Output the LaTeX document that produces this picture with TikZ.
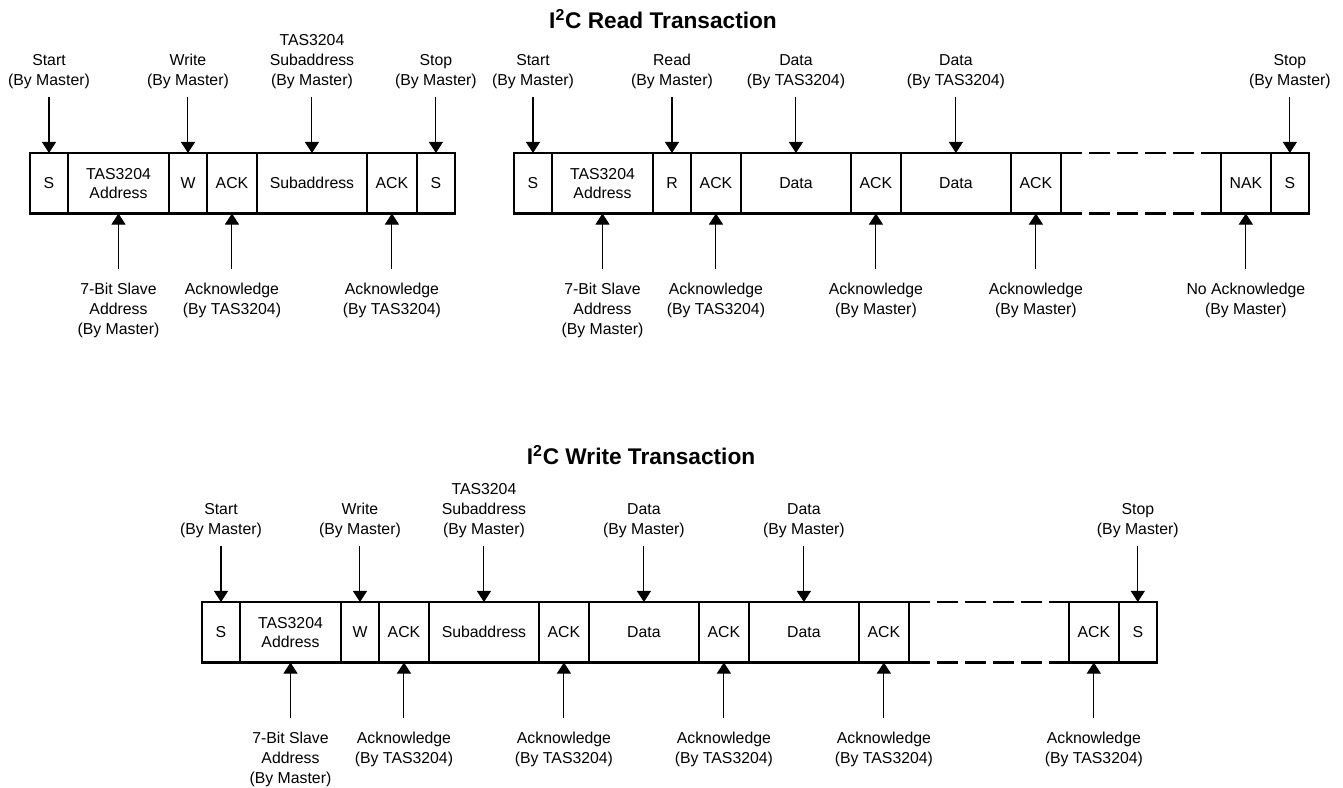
\documentclass[tikz,border=0pt]{standalone}
\usepackage{fontspec}
\setmainfont{Liberation Sans}
\usetikzlibrary{positioning,arrows.meta}

\tikzset{
  cell/.style={draw,line width=1.3pt,minimum height=1.21cm,inner sep=0pt,outer sep=0pt,align=center,font=\fontsize{9}{11}\selectfont},
  narrow/.style={cell,minimum width=0.76cm},
  addr/.style={cell,minimum width=2.02cm},
  ackc/.style={cell,minimum width=1cm},
  wide/.style={cell,minimum width=2.2cm},
  gapc/.style={minimum width=3.2cm,minimum height=1.21cm,inner sep=0pt,outer sep=0pt},
  lbl/.style={align=center,inner sep=4.5pt,font=\fontsize{9}{11.5}\selectfont},
  blbl/.style={lbl,inner ysep=7.5pt},
  arr/.style={-{Triangle[width=8pt,length=6.3pt]},line width=0.6pt},
  gapline/.style={line width=1.3pt,dash pattern=on 12pt off 4pt},
  ttl/.style={font=\fontsize{12.9}{15}\selectfont\bfseries}
}

\begin{document}
\begin{tikzpicture}[x=0.02cm,y=-0.02cm,node distance=1.12cm]
\useasboundingbox (0,0) rectangle (1343,788);

% read transaction
\node[ttl] (rtitle) at (663,19) {I\textsuperscript{2}C Read Transaction};

% subaddress part
\node[narrow,anchor=north west] (ps) at (30,153) {S};
\node[addr] (padr) [right=0pt of ps] {TAS3204\\Address};
\node[narrow] (pw) [right=0pt of padr] {W};
\node[ackc] (pk1) [right=0pt of pw] {ACK};
\node[wide] (psub) [right=0pt of pk1] {Subaddress};
\node[ackc] (pk2) [right=0pt of psub] {ACK};
\node[narrow] (pp) [right=0pt of pk2] {S};

\node[lbl] (psl) [above=of ps] {Start\\(By Master)};
\node[lbl] (pwl) [above=of pw] {Write\\(By Master)};
\node[lbl] (psubl) [above=of psub] {TAS3204\\Subaddress\\(By Master)};
\node[lbl] (ppl) [above=of pp] {Stop\\(By Master)};
\node[blbl] (padrl) [below=of padr] {7-Bit Slave\\Address\\(By Master)};
\node[blbl] (pk1l) [below=of pk1] {Acknowledge\\(By TAS3204)};
\node[blbl] (pk2l) [below=of pk2] {Acknowledge\\(By TAS3204)};

\draw[arr] (psl) -- (ps);
\draw[arr] (pwl) -- (pw);
\draw[arr] (psubl) -- (psub);
\draw[arr] (ppl) -- (pp);
\draw[arr] (padrl) -- (padr);
\draw[arr] (pk1l) -- (pk1);
\draw[arr] (pk2l) -- (pk2);

% data part
\node[narrow,anchor=north west] (rs) at (514,153) {S};
\node[addr] (radr) [right=0pt of rs] {TAS3204\\Address};
\node[narrow] (rr) [right=0pt of radr] {R};
\node[ackc] (rk1) [right=0pt of rr] {ACK};
\node[wide] (rd1) [right=0pt of rk1] {Data};
\node[ackc] (rk2) [right=0pt of rd1] {ACK};
\node[wide] (rd2) [right=0pt of rk2] {Data};
\node[ackc] (rk3) [right=0pt of rd2] {ACK};
\node[gapc] (rgap) [right=0pt of rk3] {};
\node[ackc] (rn) [right=0pt of rgap] {NAK};
\node[narrow] (rp) [right=0pt of rn] {S};
\draw[gapline] (rk3.north east) -- (rn.north west);
\draw[gapline] (rk3.south east) -- (rn.south west);

\node[lbl] (rsl) [above=of rs] {Start\\(By Master)};
\node[lbl] (rrl) [above=of rr] {Read\\(By Master)};
\node[lbl] (rd1l) [above=of rd1] {Data\\(By TAS3204)};
\node[lbl] (rd2l) [above=of rd2] {Data\\(By TAS3204)};
\node[lbl] (rpl) [above=of rp] {Stop\\(By Master)};
\node[blbl] (radrl) [below=of radr] {7-Bit Slave\\Address\\(By Master)};
\node[blbl] (rk1l) [below=of rk1] {Acknowledge\\(By TAS3204)};
\node[blbl] (rk2l) [below=of rk2] {Acknowledge\\(By Master)};
\node[blbl] (rk3l) [below=of rk3] {Acknowledge\\(By Master)};
\node[blbl] (rnl) [below=of rn] {No Acknowledge\\(By Master)};

\draw[arr] (rsl) -- (rs);
\draw[arr] (rrl) -- (rr);
\draw[arr] (rd1l) -- (rd1);
\draw[arr] (rd2l) -- (rd2);
\draw[arr] (rpl) -- (rp);
\draw[arr] (radrl) -- (radr);
\draw[arr] (rk1l) -- (rk1);
\draw[arr] (rk2l) -- (rk2);
\draw[arr] (rk3l) -- (rk3);
\draw[arr] (rnl) -- (rn);

% write transaction
\node[ttl] (wtitle) at (641,455) {I\textsuperscript{2}C Write Transaction};

\node[narrow,anchor=north west] (ws) at (202,602) {S};
\node[addr] (wadr) [right=0pt of ws] {TAS3204\\Address};
\node[narrow] (ww) [right=0pt of wadr] {W};
\node[ackc] (wk1) [right=0pt of ww] {ACK};
\node[wide] (wsub) [right=0pt of wk1] {Subaddress};
\node[ackc] (wk2) [right=0pt of wsub] {ACK};
\node[wide] (wd1) [right=0pt of wk2] {Data};
\node[ackc] (wk3) [right=0pt of wd1] {ACK};
\node[wide] (wd2) [right=0pt of wk3] {Data};
\node[ackc] (wk4) [right=0pt of wd2] {ACK};
\node[gapc] (wgap) [right=0pt of wk4] {};
\node[ackc] (wk5) [right=0pt of wgap] {ACK};
\node[narrow] (wp) [right=0pt of wk5] {S};
\draw[gapline] (wk4.north east) -- (wk5.north west);
\draw[gapline] (wk4.south east) -- (wk5.south west);

\node[lbl] (wsl) [above=of ws] {Start\\(By Master)};
\node[lbl] (wwl) [above=of ww] {Write\\(By Master)};
\node[lbl] (wsubl) [above=of wsub] {TAS3204\\Subaddress\\(By Master)};
\node[lbl] (wd1l) [above=of wd1] {Data\\(By Master)};
\node[lbl] (wd2l) [above=of wd2] {Data\\(By Master)};
\node[lbl] (wpl) [above=of wp] {Stop\\(By Master)};
\node[blbl] (wadrl) [below=of wadr] {7-Bit Slave\\Address\\(By Master)};
\node[blbl] (wk1l) [below=of wk1] {Acknowledge\\(By TAS3204)};
\node[blbl] (wk2l) [below=of wk2] {Acknowledge\\(By TAS3204)};
\node[blbl] (wk3l) [below=of wk3] {Acknowledge\\(By TAS3204)};
\node[blbl] (wk4l) [below=of wk4] {Acknowledge\\(By TAS3204)};
\node[blbl] (wk5l) [below=of wk5] {Acknowledge\\(By TAS3204)};

\draw[arr] (wsl) -- (ws);
\draw[arr] (wwl) -- (ww);
\draw[arr] (wsubl) -- (wsub);
\draw[arr] (wd1l) -- (wd1);
\draw[arr] (wd2l) -- (wd2);
\draw[arr] (wpl) -- (wp);
\draw[arr] (wadrl) -- (wadr);
\draw[arr] (wk1l) -- (wk1);
\draw[arr] (wk2l) -- (wk2);
\draw[arr] (wk3l) -- (wk3);
\draw[arr] (wk4l) -- (wk4);
\draw[arr] (wk5l) -- (wk5);
\end{tikzpicture}
\end{document}
